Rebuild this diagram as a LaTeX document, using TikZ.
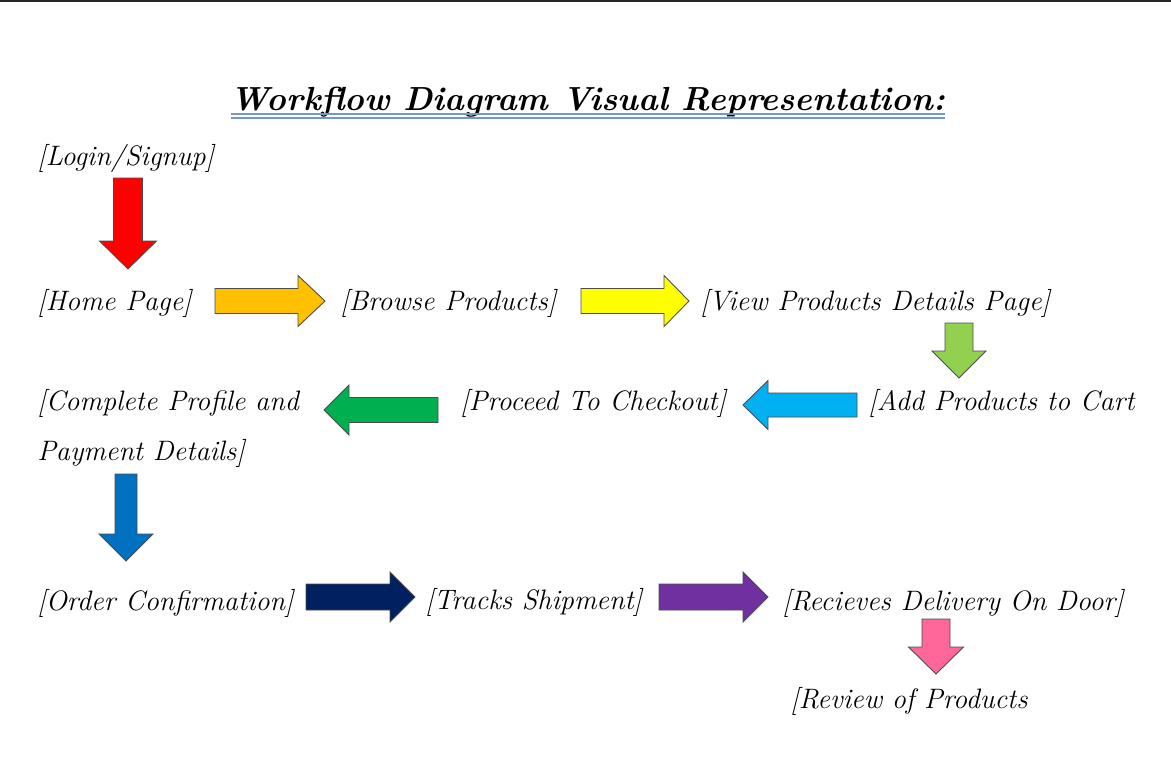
\documentclass[tikz,border=0pt]{standalone}
\usepackage{xcolor}
\usepackage{tikz}
\usetikzlibrary{positioning, calc}

\tikzset{
    stage/.style={anchor=base west, inner sep=0pt, font=\fontsize{16}{28}\selectfont\itshape},
    pics/flowarrow/.style n args={5}{code={
        % #1 length, #2 shaft, #3 head width, #4 head length, #5 colour
        \filldraw[fill=#5, draw=black!70, line width=0.5pt]
            (0,-#2/2) -- (#1-#4,-#2/2) -- (#1-#4,-#3/2) -- (#1,0)
            -- (#1-#4,#3/2) -- (#1-#4,#2/2) -- (0,#2/2) -- cycle;
    }}
}

\begin{document}
\begin{tikzpicture}[x=0.02cm, y=-0.02cm]
    % Arrow colors
    \definecolor{cred}{HTML}{FF0000}
    \definecolor{corange}{HTML}{FFC000}
    \definecolor{cyellow}{HTML}{FFFF00}
    \definecolor{clime}{HTML}{92D050}
    \definecolor{csky}{HTML}{00B0F0}
    \definecolor{cgreen}{HTML}{00B050}
    \definecolor{cblue}{HTML}{0070C0}
    \definecolor{cnavy}{HTML}{002060}
    \definecolor{cpurple}{HTML}{7030A0}
    \definecolor{cpink}{HTML}{FF6699}
    \definecolor{cline}{HTML}{7297C8}

    \useasboundingbox (0,0) rectangle (1171,761);
    \fill[black!85] (0,0) rectangle (1171,2);

    % Title
    \node[anchor=base, inner sep=0pt, font=\fontsize{19}{22}\selectfont\bfseries\itshape]
        (title) at (588,110) {Workflow Diagram Visual Representation:};
    \draw[cline, line width=0.6pt] ([yshift=-0.08cm]title.base west) -- ([yshift=-0.08cm]title.base east);
    \draw[cline, line width=0.6pt] ([yshift=-0.16cm]title.base west) -- ([yshift=-0.16cm]title.base east);

    % Steps
    \node[stage] (login) at (37,165) {[Login/Signup]};
    \node[stage] (home) at (37,310) {[Home Page]};
    \node[stage] (browse) at (340,310) {[Browse Products]};
    \node[stage] (view) at (700,310) {[View Products Details Page]};
    \node[stage] (cart) at (868,410) {[Add Products to Cart};
    \node[stage] (checkout) at (460,410) {[Proceed To Checkout]};
    \node[stage, align=left] (profile) at (37,460) {[Complete Profile and\\Payment Details]};
    \node[stage] (order) at (37,610) {[Order Confirmation]};
    \node[stage] (track) at (425,609) {[Tracks Shipment]};
    \node[stage] (deliver) at (782,610) {[Recieves Delivery On Door]};
    \node[stage] (review) at (790,708) {[Review of Products};

    % Block arrows
    \pic[rotate=-90] at (128,178) {flowarrow={91}{29}{57}{28}{cred}};
    \pic at (215,301) {flowarrow={110}{25}{51}{27}{corange}};
    \pic at (581,301) {flowarrow={108}{25}{51}{25}{cyellow}};
    \pic[rotate=-90] at (959,323) {flowarrow={55}{28}{54}{27}{clime}};
    \pic[rotate=180] at (857,405) {flowarrow={114}{24}{49}{25}{csky}};
    \pic[rotate=180] at (438,410) {flowarrow={114}{25}{50}{25}{cgreen}};
    \pic[rotate=-90] at (126,474) {flowarrow={87}{22}{54}{27}{cblue}};
    \pic at (306,597) {flowarrow={109}{26}{50}{25}{cnavy}};
    \pic at (659,597) {flowarrow={109}{26}{50}{25}{cpurple}};
    \pic[rotate=-90] at (936,619) {flowarrow={55}{28}{55}{27}{cpink}};
\end{tikzpicture}
\end{document}
